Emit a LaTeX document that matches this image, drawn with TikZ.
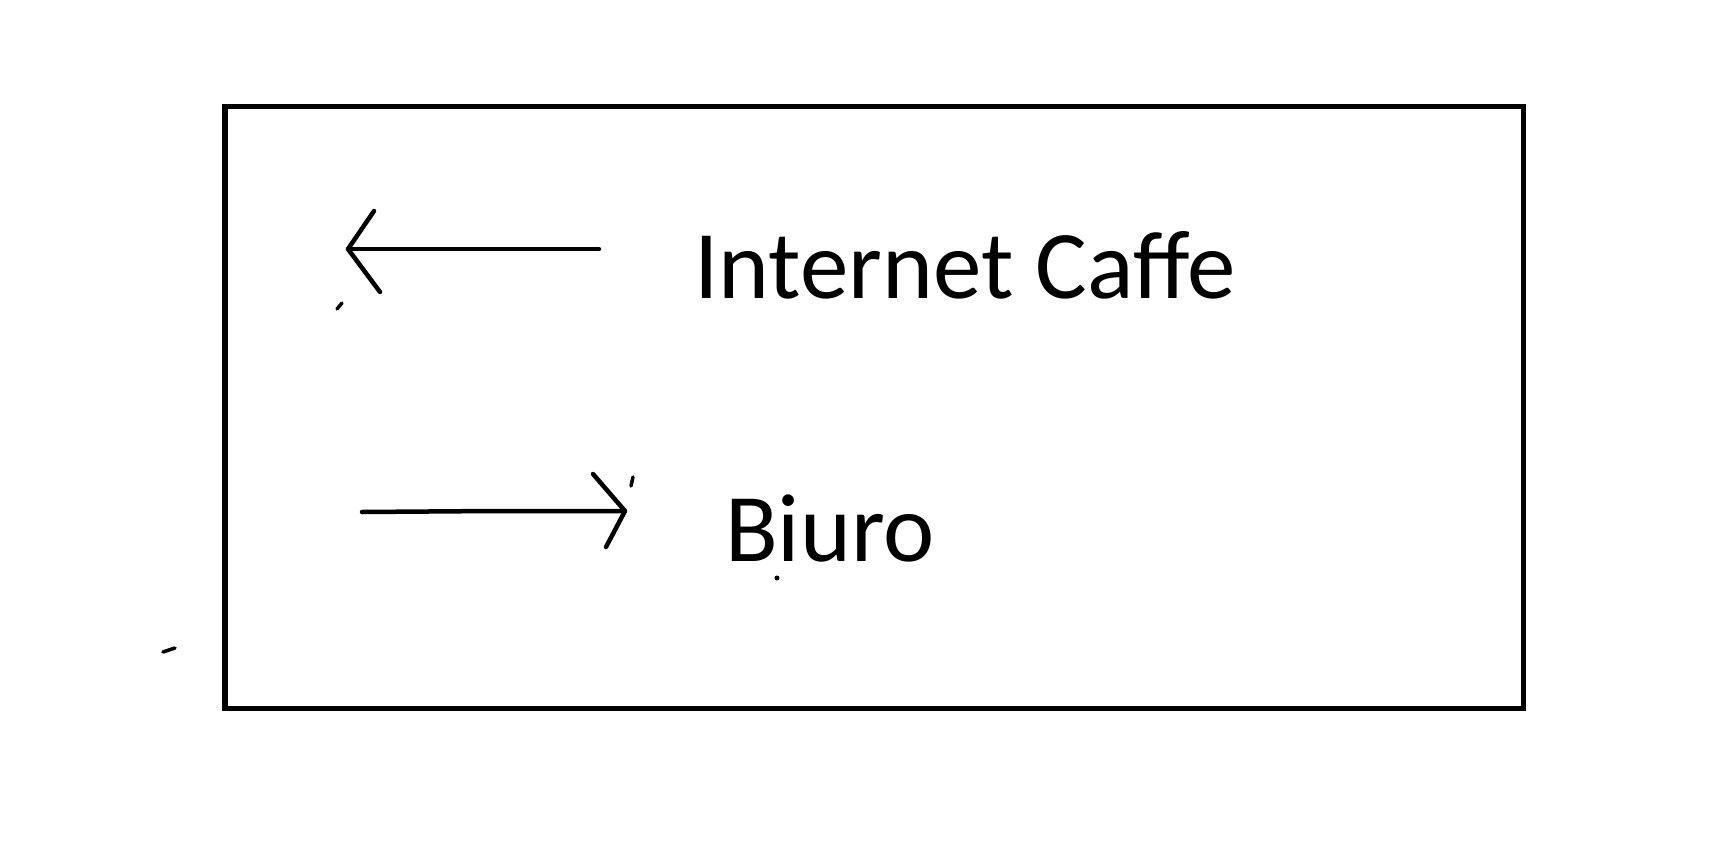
\documentclass[tikz,border=0pt]{standalone}
\usepackage{fontspec}
\setmainfont{Carlito}
\usepackage{xcolor}
\definecolor{inkblack}{RGB}{0, 0, 0}

\begin{document}
\begin{tikzpicture}[
        x=1pt, y=-1pt,
        frame/.style={draw=inkblack, line width=5.5pt},
        sign/.style={anchor=base west, inner sep=0pt, font=\fontsize{97}{97}\selectfont, text=inkblack},
        stroke/.style={draw=inkblack, line width=4.5pt, line cap=round, line join=round},
        speck/.style={draw=inkblack, line width=3.5pt, line cap=round}
    ]
    % Canvas
    \useasboundingbox (0, 0) rectangle (1733, 844);

    % Frame
    \draw[frame] (225, 106.5) rectangle (1523.5, 708.5);

    % Labels
    \node[sign] (cafe) at (694, 298) {Internet Caffe};
    \node[sign] (office) at (725, 561) {Biuro};

    % Arrow to the cafe
    \coordinate (cafe_tail) at (599, 249);
    \coordinate (cafe_tip) at (348, 249);
    \draw[stroke] (cafe_tail) -- (cafe_tip);
    \draw[stroke] (374, 211) -- (cafe_tip) -- (380, 292);

    % Arrow to the office
    \coordinate (office_tail) at (362, 512);
    \coordinate (office_mid) at (493, 511);
    \coordinate (office_tip) at (625, 511);
    \draw[stroke] (office_tail) -- (office_mid) -- (office_tip);
    \draw[stroke] (593, 474) -- (office_tip) -- (606, 547);

    % Stray pen marks
    \draw[speck] (337, 309) -- (342, 303);
    \draw[speck] (631, 486) -- (633, 477);
    \draw[speck] (163, 652) -- (175, 648);
    \fill[inkblack] (777, 578) circle (2.5);
\end{tikzpicture}
\end{document}
